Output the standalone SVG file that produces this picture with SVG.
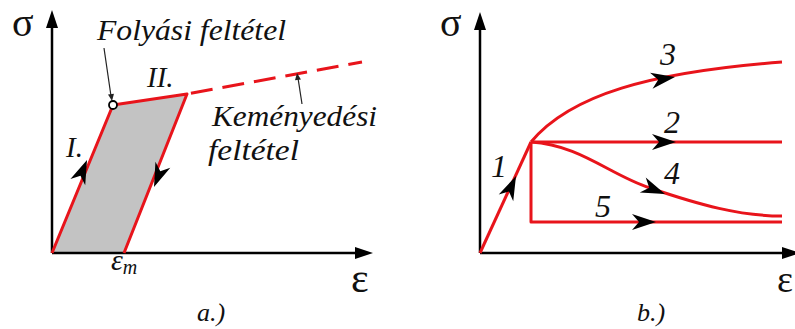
<svg xmlns="http://www.w3.org/2000/svg" xmlns:xlink="http://www.w3.org/1999/xlink" width="795" height="329" viewBox="0 0 795 329">
<style>
.axis{stroke:#000;stroke-width:2.5;fill:none}
.red{stroke:#e8141b;stroke-width:3;fill:none;stroke-linejoin:round}
.lbl{font-family:"Liberation Serif","Times New Roman",serif;font-style:italic;fill:#111}
.sym{font-family:"Liberation Serif","Times New Roman",serif;fill:#111}
.lead{stroke:#222;stroke-width:1.2;fill:none}
</style>
<defs>
<path id="ah" d="M0,0 L-24,-8 L-17,0 L-24,8 Z" fill="#000"/>
<path id="axh" d="M0,0 L-18,-6 L-18,6 Z" fill="#000"/>
<path id="sh" d="M0,0 L-7,-3 L-7,3 Z" fill="#222"/>
</defs>

<g id="panel-a">
  <g id="a-fill"><polygon points="52,253 113,105 187,94 124,253" fill="#c3c3c3"/></g>
  <g id="a-axes">
    <line class="axis" x1="52" y1="253" x2="52" y2="26"/>
    <use xlink:href="#axh" transform="translate(52,10) rotate(-90)"/>
    <line class="axis" x1="52" y1="253" x2="358" y2="253"/>
    <use xlink:href="#axh" transform="translate(373,253)"/>
    <text class="sym" x="12" y="36" font-size="40">σ</text>
    <text class="sym" x="351" y="292" font-size="42">ε</text>
  </g>
  <g id="a-connectors">
    <polyline class="red" points="52,253 113,105 187,94 124,253"/>
    <line class="red" x1="187" y1="94" x2="362" y2="62" stroke-dasharray="22,10" stroke-dashoffset="-4"/>
    <use xlink:href="#ah" transform="translate(87,160) rotate(-67.5)"/>
    <use xlink:href="#ah" transform="translate(154,187) rotate(111.7)"/>
    <line class="lead" x1="104" y1="48" x2="111" y2="96"/>
    <use xlink:href="#sh" transform="translate(112,101) rotate(81.7)"/>
    <line class="lead" x1="302" y1="104" x2="298" y2="78"/>
    <use xlink:href="#sh" transform="translate(297,73) rotate(-98)"/>
  </g>
  <g id="a-yield"><circle cx="113" cy="105" r="4" fill="#fff" stroke="#000" stroke-width="1.8"/></g>
  <g id="a-labels">
    <text class="lbl" x="97" y="40" font-size="29" textLength="189" lengthAdjust="spacingAndGlyphs">Folyási feltétel</text>
    <text class="lbl" x="147" y="87" font-size="29">II.</text>
    <text class="lbl" x="66" y="157" font-size="29">I.</text>
    <text class="lbl" x="212" y="126" font-size="29" textLength="165" lengthAdjust="spacingAndGlyphs">Keményedési</text>
    <text class="lbl" x="208" y="160" font-size="29" textLength="91" lengthAdjust="spacingAndGlyphs">feltétel</text>
    <text class="lbl" x="111" y="270" font-size="30">ε<tspan font-size="20" dy="4">m</tspan></text>
    <text class="lbl" x="197" y="321" font-size="26">a.)</text>
  </g>
</g>

<g id="panel-b">
  <g id="b-axes">
    <line class="axis" x1="480" y1="253" x2="480" y2="28"/>
    <use xlink:href="#axh" transform="translate(480,12) rotate(-90)"/>
    <line class="axis" x1="480" y1="253" x2="795" y2="253"/>
    <use xlink:href="#axh" transform="translate(800,253)"/>
    <text class="sym" x="440" y="36" font-size="40">σ</text>
    <text class="sym" x="777" y="292" font-size="38">ε</text>
  </g>
  <g id="b-connectors">
    <polyline class="red" points="480,253 531,142"/>
    <path class="red" d="M531,142 C570,95 650,72 782,62"/>
    <line class="red" x1="531" y1="142" x2="782" y2="142"/>
    <path class="red" d="M531,142 C580,145 610,175 650,188 C700,205 740,216 782,216"/>
    <polyline class="red" points="531,142 531,222 782,222"/>
    <use xlink:href="#ah" transform="translate(516,176) rotate(-65.3)"/>
    <use xlink:href="#ah" transform="translate(675,77) rotate(-9)"/>
    <use xlink:href="#ah" transform="translate(676,142)"/>
    <use xlink:href="#ah" transform="translate(665,194) rotate(22)"/>
    <use xlink:href="#ah" transform="translate(656,222)"/>
  </g>
  <g id="b-labels">
    <text class="lbl" x="491" y="177" font-size="32">1</text>
    <text class="lbl" x="660" y="65" font-size="32">3</text>
    <text class="lbl" x="664" y="133" font-size="32">2</text>
    <text class="lbl" x="664" y="184" font-size="32">4</text>
    <text class="lbl" x="595" y="217" font-size="32">5</text>
    <text class="lbl" x="637" y="321" font-size="26">b.)</text>
  </g>
</g>
</svg>
